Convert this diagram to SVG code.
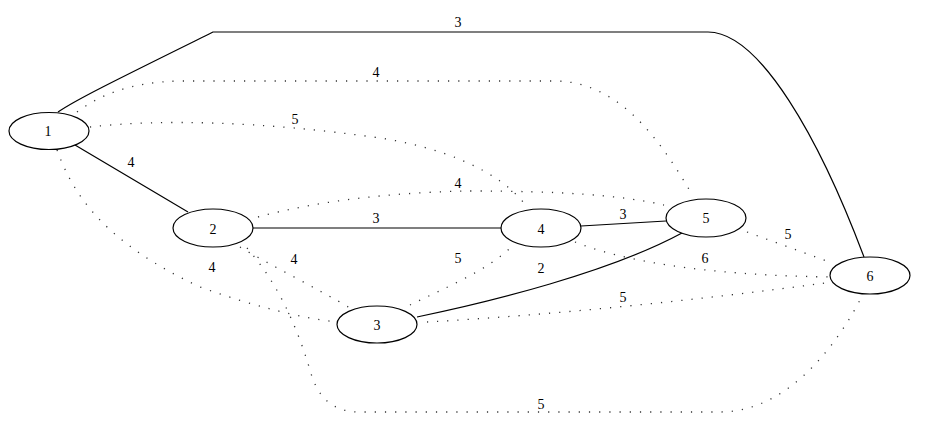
<svg xmlns="http://www.w3.org/2000/svg" width="926" height="437" viewBox="0 0 926 437">
<style>
.n ellipse{fill:#fff;stroke:#000;stroke-width:1.2}
text{font-family:"Liberation Serif","Times New Roman",serif;font-size:14px;fill:#000;text-anchor:middle;dominant-baseline:central}
.s{fill:none;stroke:#000;stroke-width:1.2}
.d{fill:none;stroke:#333;stroke-width:1.3;stroke-dasharray:1.2 9}
</style>
<rect width="926" height="437" fill="#fff"/>
<g id="connectors">
<path class="s" d="M58,112 C 75,100 120,78 213,32 L 708,32 C 760,32 820,140 864,257"/>
<path class="d" d="M90,127 C 160,119 260,121 380,138 C 440,147 500,170 527,207"/>
<path class="d" d="M77,112 C 100,95 130,82 180,81 L 557,81 C 620,83 660,140 690,191"/>
<path class="s" d="M75,145 L 188,212"/>
<path class="d" d="M57,150 C 75,200 110,245 200,287 C 250,305 300,318 337,322"/>
<path class="d" d="M258,217 C 320,200 400,192 470,191 C 560,191 620,195 664,205"/>
<path class="s" d="M253,228 L 502,228"/>
<path class="d" d="M240,247 C 270,265 320,290 350,308"/>
<path class="d" d="M247,248 C 275,280 295,320 310,370 C 318,400 335,412 360,412 L 720,412 C 790,412 840,340 862,296"/>
<path class="d" d="M410,305 C 440,290 490,270 513,245"/>
<path class="s" d="M417,317 C 490,302 610,272 682,233"/>
<path class="d" d="M427,322 C 550,315 700,300 825,283"/>
<path class="s" d="M581,226 L 666,221"/>
<path class="d" d="M575,242 C 620,260 700,275 830,277"/>
<path class="d" d="M747,232 L 832,263"/>
<text x="458" y="22">3</text>
<text x="295" y="119">5</text>
<text x="376" y="72">4</text>
<text x="131" y="162">4</text>
<text x="212" y="267">4</text>
<text x="458" y="183">4</text>
<text x="376" y="218">3</text>
<text x="294" y="259">4</text>
<text x="541" y="404">5</text>
<text x="458" y="258">5</text>
<text x="541" y="268">2</text>
<text x="623" y="297">5</text>
<text x="623" y="214">3</text>
<text x="705" y="258">6</text>
<text x="788" y="234">5</text>
</g>
<g id="node1" class="n"><ellipse cx="49" cy="131" rx="40" ry="18.5"/><text x="48" y="131">1</text></g>
<g id="node2" class="n"><ellipse cx="213" cy="228" rx="40" ry="19"/><text x="213" y="229">2</text></g>
<g id="node3" class="n"><ellipse cx="377" cy="324.5" rx="40" ry="18.5"/><text x="377" y="325">3</text></g>
<g id="node4" class="n"><ellipse cx="541" cy="228" rx="40" ry="19"/><text x="541" y="229">4</text></g>
<g id="node5" class="n"><ellipse cx="706" cy="218" rx="40" ry="19"/><text x="706" y="218">5</text></g>
<g id="node6" class="n"><ellipse cx="870" cy="275.5" rx="40" ry="18.5"/><text x="870" y="276">6</text></g>
</svg>
